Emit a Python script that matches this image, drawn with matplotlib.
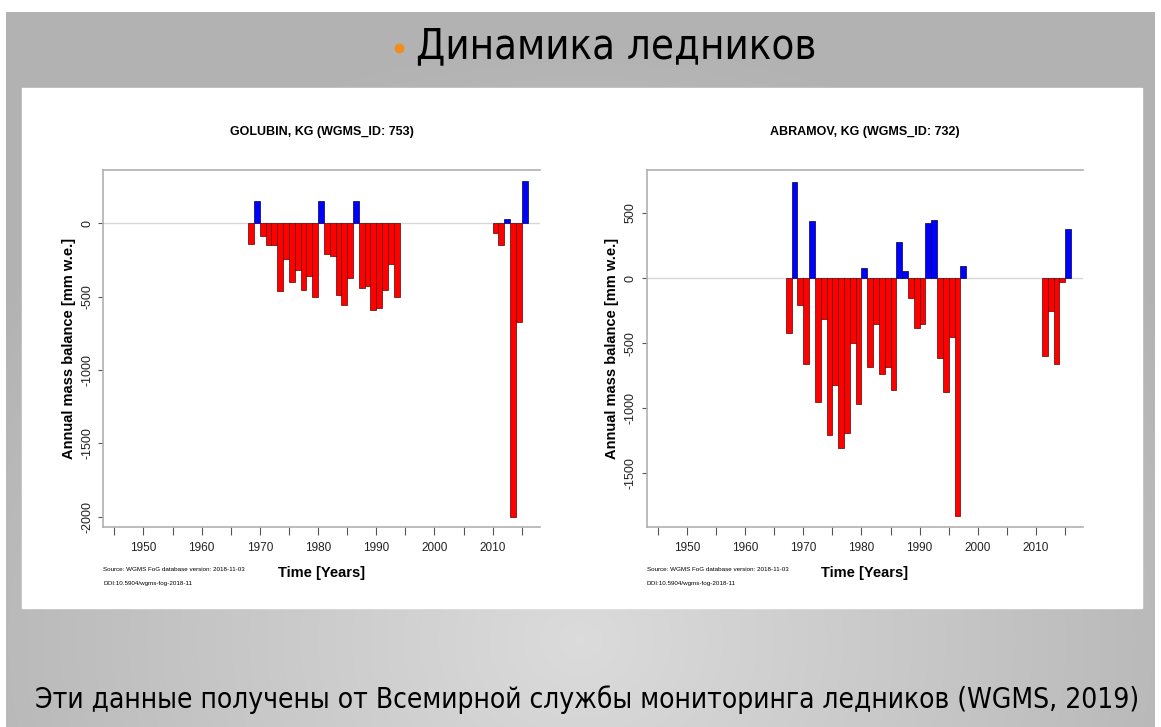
import numpy as np
import matplotlib.pyplot as plt

# GOLUBIN, KG (WGMS_ID: 753)
golubin_years = [1968, 1969, 1970, 1971, 1972, 1973, 1974, 1975, 1976, 1977,
                 1978, 1979, 1980, 1981, 1982, 1983, 1984, 1985, 1986, 1987,
                 1988, 1989, 1990, 1991, 1992, 1993,
                 2010, 2011, 2012, 2013, 2014, 2015]
golubin_mb = [-140, 150, -90, -150, -150, -465, -245, -400, -320, -455,
              -360, -500, 150, -210, -225, -490, -560, -375, 150, -440,
              -430, -590, -575, -455, -280, -500,
              -65, -150, 30, -2000, -675, 285]

# ABRAMOV, KG (WGMS_ID: 732)
abramov_years = [1967, 1968, 1969, 1970, 1971, 1972, 1973, 1974, 1975, 1976,
                 1977, 1978, 1979, 1980, 1981, 1982, 1983, 1984, 1985, 1986,
                 1987, 1988, 1989, 1990, 1991, 1992, 1993, 1994, 1995, 1996,
                 1997, 2011, 2012, 2013, 2014, 2015]
abramov_mb = [-425, 740, -210, -660, 435, -950, -315, -1205, -820, -1305,
              -1190, -495, -970, 75, -680, -350, -740, -680, -860, 280,
              50, -150, -385, -355, 420, 445, -615, -875, -450, -1825,
              95, -600, -250, -660, -30, 380]

slide_title = "Динамика ледников"
footer = "Эти данные получены от Всемирной службы мониторинга ледников (WGMS, 2019)"
source_lines = ["Source: WGMS FoG database version: 2018-11-03",
                "DOI:10.5904/wgms-fog-2018-11"]

W, H = 1161, 727
fig = plt.figure(figsize=(W / 100, H / 100), dpi=100)

# slide background: grey with lighter middle
bg = fig.add_axes([0, 0, 1, 1])
yy, xx = np.mgrid[0:H, 0:W]
d = np.sqrt(((xx - 580) / 700.0) ** 2 + ((yy - 640) / 600.0) ** 2)
g = 0.86 - 0.16 * np.clip(d, 0, 1)
img = np.dstack([g, g, g])
img[:12, :, :] = 1.0
img[:, :6, :] = 1.0
img[:, W - 6:, :] = 1.0
bg.imshow(img, extent=[0, W, H, 0], aspect='auto')
bg.set_xlim(0, W)
bg.set_ylim(H, 0)
bg.axis('off')

# white panel holding the two R plots
bg.add_patch(plt.Rectangle((22, 88), 1120, 520, color='white', zorder=2))

bg.text(416, 46, slide_title, fontsize=30, fontstretch='condensed',
        family='DejaVu Sans', ha='left', va='center', zorder=3)
bg.plot([399], [48], 'o', color='#f28c1a', ms=6, zorder=3)
bg.text(35, 700, footer, fontsize=20.2, family='DejaVu Sans',
        fontstretch='condensed', ha='left', va='center', zorder=3)

font = 'Liberation Sans'


def panel(x0, years, vals, ylim, yticks, title):
    left, top, bottom = x0, 170, 527
    width = 436.5
    ax = fig.add_axes([left / W, (H - bottom) / H, width / W, (bottom - top) / H])
    vals = np.array(vals)
    cols = np.where(vals >= 0, '#0000ff', '#ff0000')
    edges = np.where(vals >= 0, '#00004a', '#5a0000')
    ax.axhline(0, color='#d8d8d8', lw=1, zorder=1)
    ax.bar(years, vals, width=1.0, align='edge', color=cols,
           edgecolor=edges, linewidth=0.5, zorder=2)
    ax.set_xlim(1943.1, 2018.1)
    ax.set_ylim(*ylim)
    ax.set_xticks(np.arange(1945, 2016, 5))
    ax.set_xticklabels([str(t) if t % 10 == 0 else '' for t in range(1945, 2016, 5)],
                       family=font, fontsize=8.5)
    ax.set_yticks(yticks)
    ax.set_yticklabels([str(t) for t in yticks], rotation=90, va='center',
                       family=font, fontsize=9)
    ax.tick_params(axis='both', color='#555555', labelcolor='#222222')
    ax.tick_params(axis='x', length=5.8, pad=4.8)
    ax.tick_params(axis='y', length=3.6, pad=3.5)
    for s in ax.spines.values():
        s.set_color('#b0b0b0')
        s.set_linewidth(1.2)
    ax.spines['right'].set_visible(False)
    ax.set_xlabel('Time [Years]', family=font, fontsize=10.5, fontweight='bold',
                  labelpad=9)
    ax.set_ylabel('Annual mass balance [mm w.e.]', family=font, fontsize=10.5,
                  fontweight='bold', labelpad=4)
    ax.set_title(title, family=font, fontsize=9, fontweight='bold', pad=25)
    tx = ax.transAxes
    ax.text(0.0, -0.118, source_lines[0], transform=tx, fontsize=4.5,
            family=font, ha='left', va='center')
    ax.text(0.0, -0.157, source_lines[1], transform=tx, fontsize=4.5,
            family=font, ha='left', va='center')
    return ax


panel(103.3, golubin_years, golubin_mb, (-2070, 363),
      [0, -500, -1000, -1500, -2000], 'GOLUBIN, KG (WGMS_ID: 753)')
panel(646.7, abramov_years, abramov_mb, (-1911, 829),
      [500, 0, -500, -1000, -1500], 'ABRAMOV, KG (WGMS_ID: 732)')

fig.savefig('out.png', dpi=100)
